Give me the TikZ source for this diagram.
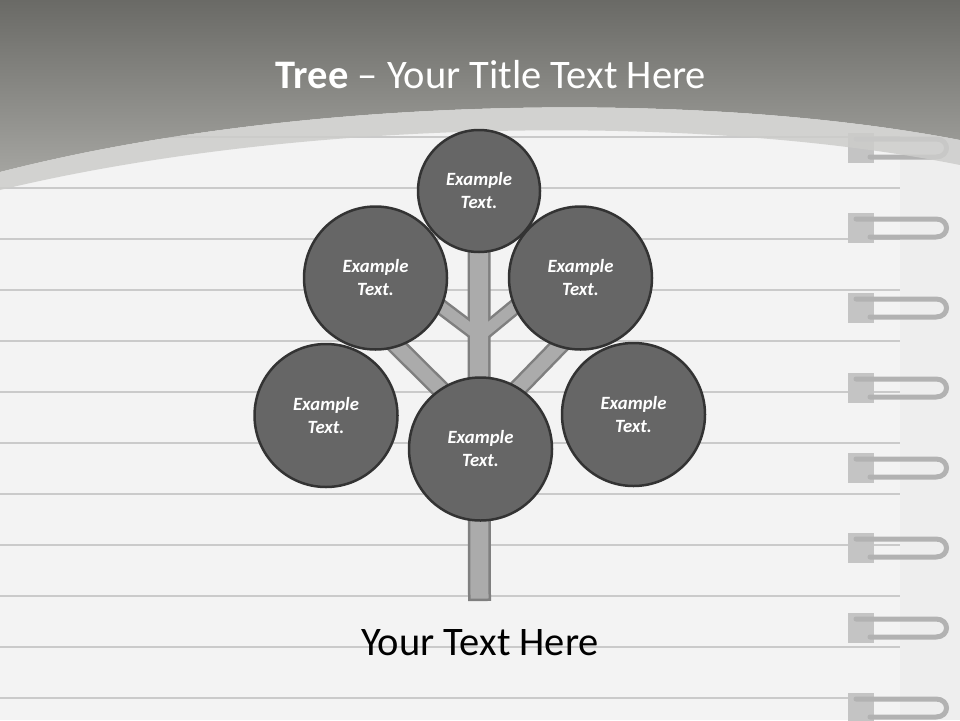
\documentclass[tikz,border=0pt]{standalone}
\usepackage{fontspec}
\setmainfont{Carlito}
\definecolor{headtop}{HTML}{6A6A66}
\definecolor{headbot}{HTML}{A4A4A0}
\definecolor{band}{HTML}{CDCDCB}
\definecolor{paper}{HTML}{F3F3F3}
\definecolor{strip}{HTML}{EEEEEE}
\definecolor{rule}{HTML}{CACACA}
\definecolor{leaf}{HTML}{666666}
\definecolor{leafline}{HTML}{333333}
\definecolor{bark}{HTML}{ABABAB}
\definecolor{barkline}{HTML}{7F7F7F}
\definecolor{ring}{HTML}{B2B2B2}
\definecolor{ringblock}{HTML}{C4C4C4}
\pgfdeclarelayer{paper}
\pgfdeclarelayer{wood}
\pgfsetlayers{paper,wood,main}
\begin{document}
\begin{tikzpicture}[x=1pt,y=-1pt,
		leafnode/.style={circle,draw=leafline,line width=2.5pt,fill=leaf,
			minimum size=143pt,inner sep=0pt,text=white,align=center,
			font=\fontsize{18.7}{23}\selectfont\bfseries\itshape},
		ringwire/.style={draw=ring,line width=5pt,line cap=round},
		bigtext/.style={font=\fontsize{40.5}{48}\selectfont}]
	\useasboundingbox (0,0) rectangle (960,720);
	% Leaves of the tree
	\node[leafnode,minimum size=122pt] (top) at (479,191) {Example\\Text.};
	\node[leafnode] (upleft) at (375.5,278) {Example\\Text.};
	\node[leafnode] (upright) at (580.5,278) {Example\\Text.};
	\node[leafnode] (lowleft) at (326,415.5) {Example\\Text.};
	\node[leafnode] (bottom) at (480.5,449) {Example\\Text.};
	\node[leafnode] (lowright) at (633.5,414.5) {Example\\Text.};
	\coordinate (root) at (479.5,601);
	\coordinate (forklow) at (479.5,428);
	\coordinate (forkhigh) at (479.5,336);
	% Texts
	\node[bigtext,text=white] (title) at (491,75) {\textbf{Tree} -- Your Title Text Here};
	\node[bigtext] (caption) at (480,643) {Your Text Here};
	% Trunk and branches
	\begin{pgfonlayer}{wood}
		\foreach \c/\tw/\lw/\sw/\cut in {barkline/23/19/16/0,bark/18/14/11/2.5}{
			\draw[\c,line width=\tw pt,shorten >=\cut pt] (top.center) -- (root);
			\draw[\c,line width=\lw pt,shorten >=-8pt] (forklow) -- (upleft.-72);
			\draw[\c,line width=\lw pt,shorten >=-8pt] (forklow) -- (upright.-108);
			\draw[\c,line width=\sw pt,shorten >=-8pt] (forkhigh) -- (upleft.-24);
			\draw[\c,line width=\sw pt,shorten >=-8pt] (forkhigh) -- (upright.-156);
		}
	\end{pgfonlayer}
	% Notebook page
	\begin{pgfonlayer}{paper}
		\fill[paper] (0,0) rectangle (960,720);
		\fill[strip] (900,0) rectangle (960,720);
		\foreach \y in {137,188,...,698}
			\draw[rule,line width=1.2pt] (0,\y) -- (900,\y);
		\foreach \y in {148,228,...,708}{
			\fill[ringblock] (848,\y-15) rectangle (874,\y+15);
			\draw[ringwire] (856,\y-9) -- (936,\y-9) .. controls (950,\y-9) and (950,\y+9) .. (936,\y+9) -- (870,\y+9);
		}
		\shade[top color=headtop,bottom color=headbot] (0,0) -- (960,0) -- (960,140)
			.. controls (700,90) and (300,95) .. (0,172) -- cycle;
		\fill[band,opacity=0.85] (0,172) .. controls (300,95) and (700,90) .. (960,140)
			-- (960,165) .. controls (700,113) and (300,118) .. (0,190) -- cycle;
	\end{pgfonlayer}
\end{tikzpicture}
\end{document}
